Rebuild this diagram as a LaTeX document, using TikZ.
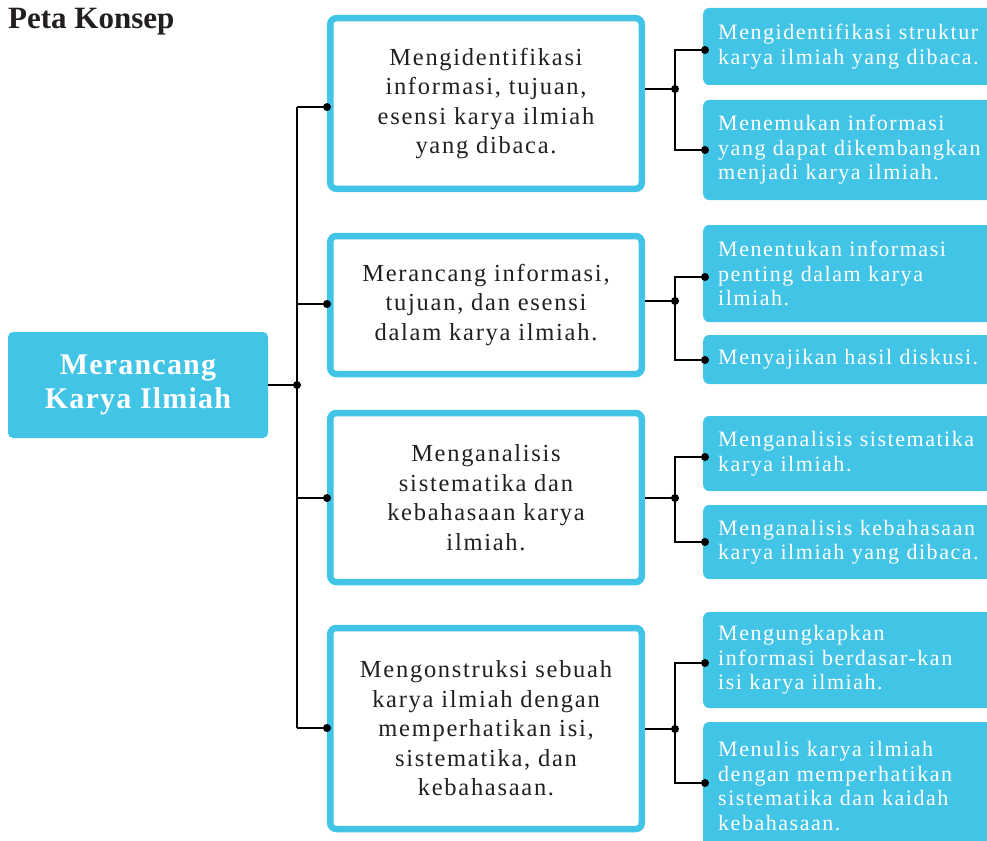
\documentclass[tikz,border=0pt]{standalone}
\usepackage{fontspec}
\setmainfont{Liberation Serif}
\newfontfamily\midfont[LetterSpace=7]{Liberation Serif}
\newfontfamily\kidfont[LetterSpace=7]{Liberation Serif}
\newfontfamily\rootfont[LetterSpace=4]{Liberation Serif}
\definecolor{cyanbox}{RGB}{65,196,230}
\definecolor{inkdark}{RGB}{35,31,32}
\tikzset{
 rootbox/.style={fill=cyanbox, rounded corners=5pt, minimum width=260pt, minimum height=106pt, text=white, align=center, font=\rootfont\fontsize{30}{34}\selectfont\bfseries, inner sep=0pt},
 midbox/.style={draw=cyanbox, line width=6.5pt, fill=white, rounded corners=6pt, minimum width=311.5pt, align=center, text=inkdark, font=\midfont\fontsize{24.5}{29.5}\selectfont, inner sep=0pt},
 kidbox/.style={fill=cyanbox, rounded corners=6pt, anchor=west, text width=275pt, align=left, inner xsep=15pt, inner ysep=0pt, text=white, font=\kidfont\fontsize{22}{24.5}\selectfont},
 link/.style={line width=1.5pt, black},
 titletext/.style={anchor=base west, inner sep=0pt, text=inkdark, font=\fontsize{31}{36}\selectfont\bfseries},
}
\newcommand{\dotat}[1]{\fill[black] (#1) circle[radius=4pt];}
\begin{document}
\begin{tikzpicture}[x=1pt,y=-1pt]
\useasboundingbox (0,0) rectangle (987,840);
\clip (0,0) rectangle (987,840);
\fill[white] (0,0) rectangle (987,840);

\node[titletext] (title) at (8,29) {Peta Konsep};

% root
\node[rootbox] (root) at (138,385) {Merancang\\Karya Ilmiah};

% middle boxes
\node[midbox, minimum height=170.5pt] (m1) at (486,103.5) {Mengidentifikasi\\informasi, tujuan,\\esensi karya ilmiah\\yang dibaca.};
\node[midbox, minimum height=138pt] (m2) at (486,305) {Merancang informasi,\\tujuan, dan esensi\\dalam karya ilmiah.};
\node[midbox, minimum height=169pt] (m3) at (486,497.5) {Menganalisis\\sistematika dan\\kebahasaan karya\\ilmiah.};
\node[midbox, minimum height=201pt] (m4) at (486,728.5) {Mengonstruksi sebuah\\karya ilmiah dengan\\memperhatikan isi,\\sistematika, dan\\kebahasaan.};

% child boxes
\node[kidbox, minimum height=77pt] (c1) at (703,46.5) {Mengidentifikasi struktur\\karya ilmiah yang dibaca.};
\node[kidbox, minimum height=100pt] (c2) at (703,150) {Menemukan informasi\\yang dapat dikembangkan\\menjadi karya ilmiah.};
\node[kidbox, minimum height=97pt] (c3) at (703,273.5) {Menentukan informasi\\penting dalam karya\\ilmiah.};
\node[kidbox, minimum height=49pt] (c4) at (703,359.5) {Menyajikan hasil diskusi.};
\node[kidbox, minimum height=75pt] (c5) at (703,453.5) {Menganalisis sistematika\\karya ilmiah.};
\node[kidbox, minimum height=74pt] (c6) at (703,542) {Menganalisis kebahasaan\\karya ilmiah yang dibaca.};
\node[kidbox, minimum height=96pt] (c7) at (703,660) {Mengungkapkan\\informasi berdasar-kan\\isi karya ilmiah.};
\node[kidbox, minimum height=128pt] (c8) at (703,786) {Menulis karya ilmiah\\dengan memperhatikan\\sistematika dan kaidah\\kebahasaan.};

% left tree
\coordinate (j0) at (297,385);
\coordinate (t1) at (297,107);
\coordinate (t2) at (297,304);
\coordinate (t3) at (297,498);
\coordinate (t4) at (297,728);
\draw[link] (root.east) -- (j0);
\draw[link] (t1) -- (t4);
\draw[link] (t1) -- (m1.west |- t1);
\draw[link] (t2) -- (m2.west |- t2);
\draw[link] (t3) -- (m3.west |- t3);
\draw[link] (t4) -- (m4.west |- t4);
\dotat{j0}
\dotat{m1.west |- t1}
\dotat{m2.west |- t2}
\dotat{m3.west |- t3}
\dotat{m4.west |- t4}

% right trees
\coordinate (r1) at (675,89);
\coordinate (r2) at (675,301);
\coordinate (r3) at (675,498);
\coordinate (r4) at (675,729);
\coordinate (k1) at (705,50);
\coordinate (k2) at (705,150);
\coordinate (k3) at (705,277);
\coordinate (k4) at (705,360);
\coordinate (k5) at (705,457);
\coordinate (k6) at (705,542);
\coordinate (k7) at (705,663);
\coordinate (k8) at (705,783);
\draw[link] (m1.east |- r1) -- (r1);
\draw[link] (m2.east |- r2) -- (r2);
\draw[link] (m3.east |- r3) -- (r3);
\draw[link] (m4.east |- r4) -- (r4);
\draw[link] (k1) -| (r1) |- (k2);
\draw[link] (k3) -| (r2) |- (k4);
\draw[link] (k5) -| (r3) |- (k6);
\draw[link] (k7) -| (r4) |- (k8);
\foreach \p in {r1,r2,r3,r4,k1,k2,k3,k4,k5,k6,k7,k8} {\dotat{\p}}
\end{tikzpicture}
\end{document}
